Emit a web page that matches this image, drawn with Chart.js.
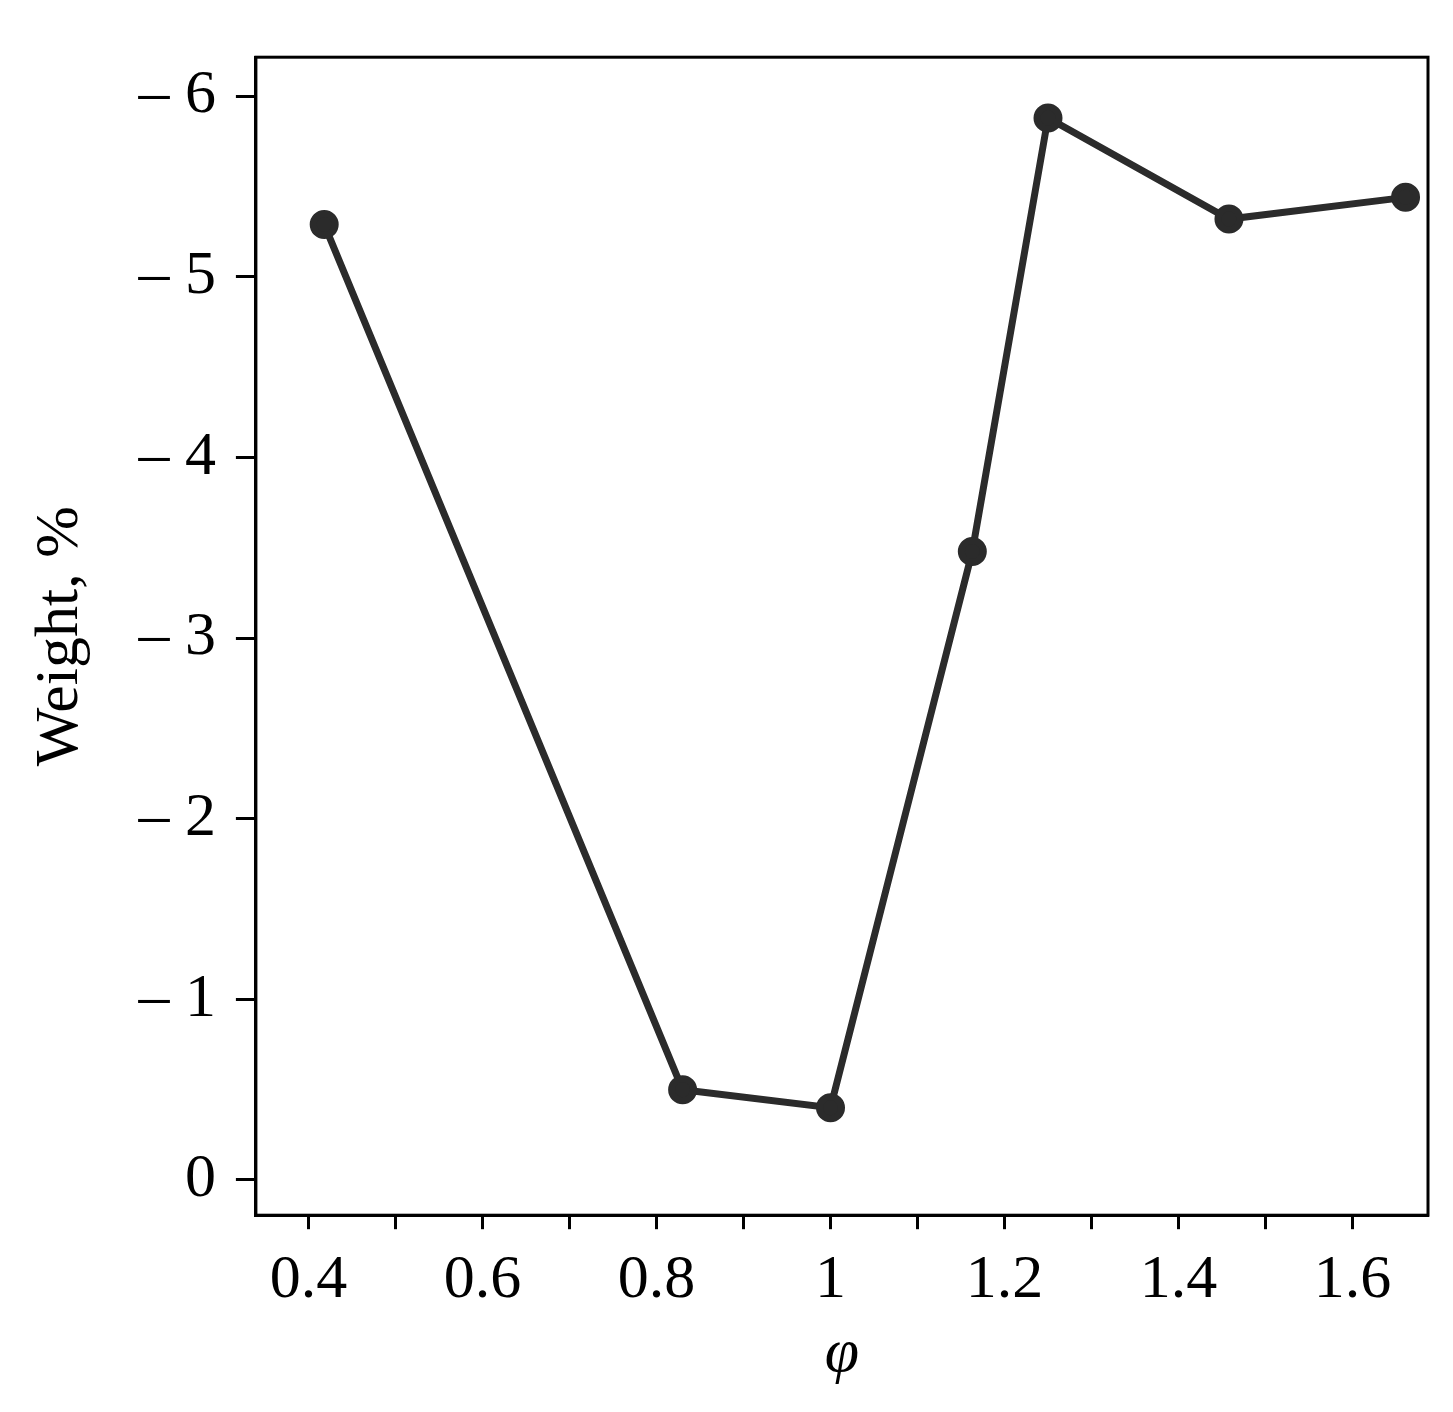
<!DOCTYPE html>
<html>
<head>
	<meta charset="utf-8">
	<script src="https://cdn.jsdelivr.net/npm/chart.js@4"></script>
	<style>
		html, body { margin: 0; padding: 0; background: #fff; }
		#wrap { position: relative; width: 1453px; height: 1412px; }
	</style>
</head>
<body>
	<div id="wrap"><canvas id="myChart"></canvas></div>
	<script>
		// phi values and weight (%)
		var phi = [0.418, 0.830, 1.0, 1.163, 1.25, 1.458, 1.661];
		var weight = [5.29, 0.50, 0.40, 3.48, 5.88, 5.32, 5.44];
		var yTicks = [0, 1, 2, 3, 4, 5, 6];
		var xLabelled = [0.4, 0.6, 0.8, 1, 1.2, 1.4, 1.6];

		var pts = phi.map(function(x, i){ return { x: x, y: weight[i] }; });
		var font = { family: 'Liberation Serif, Times New Roman, serif', size: 62 };

		new Chart(document.getElementById('myChart'), {
			type: 'scatter',
			data: {
				datasets: [{
					data: pts,
					showLine: true,
					borderColor: '#2b2b2b',
					backgroundColor: '#2b2b2b',
					borderWidth: 7,
					pointRadius: 11,
					pointHoverRadius: 11
				}]
			},
			options: {
				responsive: true,
				maintainAspectRatio: false,
				animation: false,
				layout: { padding: { top: 0, right: 25, bottom: 0, left: 20 } },
				plugins: { legend: { display: false }, tooltip: { enabled: false } },
				scales: {
					x: {
						type: 'linear',
						min: 0.3395, max: 1.6868,
						afterBuildTicks: function(axis) {
							var t = [];
							for (var i = 4; i <= 16; i++) t.push({ value: i / 10 });
							axis.ticks = t;
						},
						border: { display: true, color: '#000', width: 3 },
						grid: { display: true, drawOnChartArea: false, drawTicks: true, tickLength: 14, tickWidth: 3, color: '#000' },
						ticks: {
							color: '#000', font: font, maxRotation: 0, autoSkip: false, padding: 14,
							callback: function(v) {
								var r = Math.round(v * 10) / 10;
								return xLabelled.indexOf(r) >= 0 ? String(r) : '';
							}
						},
						title: { display: true, text: 'φ', color: '#000', padding: { top: -14, bottom: 20 },
							font: { family: font.family, size: 62, style: 'italic' } }
					},
					y: {
						min: -0.195, max: 6.216,
						afterBuildTicks: function(axis) {
							axis.ticks = yTicks.map(function(v){ return { value: v }; });
						},
						border: { display: true, color: '#000', width: 3 },
						grid: { display: true, drawOnChartArea: false, drawTicks: true, tickLength: 20, tickWidth: 3, color: '#000' },
						ticks: {
							color: '#000', font: font, padding: 20,
							callback: function(v) { return v === 0 ? '0' : '\u2013 ' + v; }
						},
						title: { display: true, text: 'Weight, %', color: '#000', padding: { bottom: 20 }, font: font }
					}
				}
			},
			plugins: [{
				id: 'frame',
				afterDraw: function(c) {
					var a = c.chartArea, ctx = c.ctx;
					ctx.save();
					ctx.strokeStyle = '#000';
					ctx.lineWidth = 3;
					ctx.strokeRect(a.left, a.top, a.right - a.left, a.bottom - a.top);
					ctx.restore();
				}
			}]
		});
	</script>
</body>
</html>
